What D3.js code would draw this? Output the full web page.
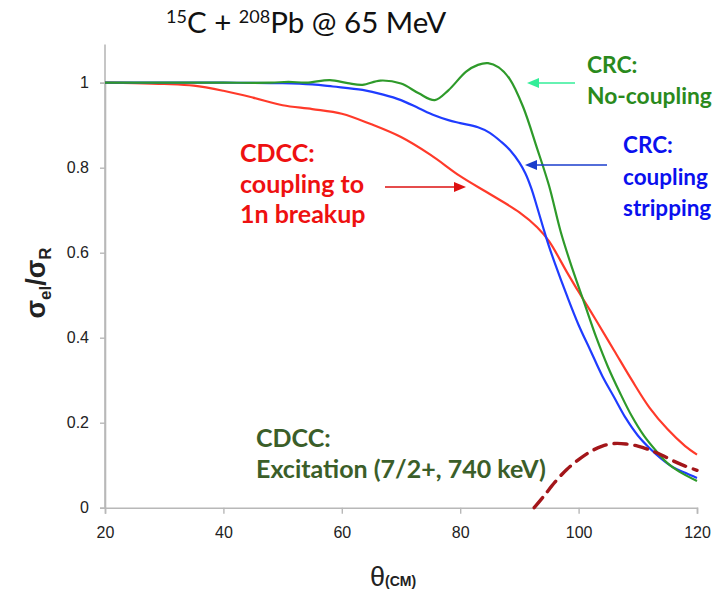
<!DOCTYPE html>
<html><head><meta charset="utf-8">
<script src="https://cdn.jsdelivr.net/npm/d3@7"></script>
<style>html,body{margin:0;padding:0;background:#fff;overflow:hidden}</style>
</head><body>
<svg id="c" width="715" height="593"></svg>
<script>
// ---- data (theta_cm in degrees, sigma_el/sigma_R) ----
const xTicks = [20, 40, 60, 80, 100, 120];
const yTicks = [0, 0.2, 0.4, 0.6, 0.8, 1];
const yTickLabels = ["0", "0.2", "0.4", "0.6", "0.8", "1"];

const greenTheta = [20,30,40,48,51,54,58,61,63.5,66.5,70,73,75.7,78,81,83,84.7,86.5,88.4,90.6,93,95,97,99,101,103,105,107,109,111,113,115,117,120];
const greenVal   = [1.0,1.0,1.0,1.0,1.002,1.0,1.006,0.999,0.995,1.005,0.998,0.975,0.959,0.982,1.026,1.042,1.046,1.036,1.008,0.944,0.845,0.758,0.648,0.56,0.48,0.40,0.33,0.27,0.215,0.17,0.135,0.105,0.085,0.063];

const blueTheta = [20,30,40,50,55,58.5,63.5,67,70,73,75.5,78,80,83,85,87,88.5,90,91,92,93,94,95,96,98,100,102,104,106,108,110,112,114,116,118,120];
const blueVal   = [1.0,1.0,1.0,0.999,0.996,0.991,0.983,0.972,0.959,0.94,0.924,0.912,0.905,0.895,0.882,0.86,0.84,0.812,0.787,0.752,0.707,0.66,0.615,0.575,0.5,0.43,0.37,0.31,0.26,0.21,0.17,0.14,0.115,0.095,0.082,0.07];

const redTheta = [20,25,30,35,40,45,50,55,60,65,70,75,80,85,90,93,95,98,100,103,106,109,112,115,118,120];
const redVal   = [1.0,0.999,0.997,0.993,0.981,0.965,0.947,0.938,0.927,0.902,0.872,0.83,0.78,0.738,0.695,0.66,0.627,0.555,0.508,0.44,0.37,0.30,0.235,0.185,0.145,0.125];

const exTheta = [92.5,94,96,98,100,102,104,106,108,110,112,114,116,118,120];
const exVal   = [0.0,0.025,0.06,0.09,0.113,0.132,0.145,0.151,0.15,0.145,0.136,0.124,0.11,0.098,0.088];

// ---- layout ----
const svg = d3.select("#c");
const x = d3.scaleLinear().domain([20,120]).range([105,697]);
const y = d3.scaleLinear().domain([0,1]).range([507.7,82.7]);
const axisColor = "#b8b8b8";

// axes
const gx = svg.append("g").attr("transform",`translate(0,${y(0)})`)
  .call(d3.axisBottom(x).tickValues(xTicks).tickSize(6).tickPadding(13).tickFormat(d3.format("d")));
const gy = svg.append("g").attr("transform",`translate(${x(20)},0)`)
  .call(d3.axisLeft(y).tickValues(yTicks).tickSize(5).tickPadding(11).tickFormat((d,i)=>yTickLabels[i]));
svg.append("line").attr("x1",x(20)).attr("x2",x(20)).attr("y1",y(0)).attr("y2",y(1.09)).attr("stroke",axisColor).attr("stroke-width",1.6);
[gx,gy].forEach(g=>{
  g.select(".domain").attr("stroke",axisColor).attr("stroke-width",1.6);
  g.selectAll(".tick line").attr("stroke",axisColor).attr("stroke-width",1.4);
  g.selectAll(".tick text").attr("fill","#222").style("font-family","Liberation Sans, Arial, sans-serif").style("font-size","16px");
});

// curves
const line = (xs, ys) => d3.line().x((d,i)=>x(xs[i])).y((d,i)=>y(ys[i])).curve(d3.curveCatmullRom.alpha(0.5))(xs);
svg.append("path").attr("d",line(redTheta,redVal)).attr("fill","none").attr("stroke","#ff3a2a").attr("stroke-width",2.2);
svg.append("path").attr("d",line(blueTheta,blueVal)).attr("fill","none").attr("stroke","#1f3cff").attr("stroke-width",2.2);
svg.append("path").attr("d",line(greenTheta,greenVal)).attr("fill","none").attr("stroke","#2e9a2a").attr("stroke-width",2.2);
svg.append("path").attr("d",line(exTheta,exVal)).attr("fill","none").attr("stroke","#a3161a").attr("stroke-width",3.4).attr("stroke-dasharray","13,8").attr("stroke-linecap","round");

// title
const title = svg.append("text").attr("x",166).attr("y",33).style("font-family","Lato, 'Open Sans', sans-serif").style("font-size","29.5px").attr("fill","#111");
title.append("tspan").text("15").style("font-size","18px").attr("dy","-10");
title.append("tspan").text("C + ").attr("dy","10");
title.append("tspan").text("208").style("font-size","18px").attr("dy","-10");
title.append("tspan").text("Pb @ 65 MeV").attr("dy","10");

// axis titles
const yl = svg.append("text").attr("transform","translate(45,283) rotate(-90)").attr("text-anchor","middle")
  .style("font-family","Liberation Sans, Arial, sans-serif").style("font-weight","bold").attr("fill","#222").style("font-size","27px");
yl.append("tspan").text("σ");
yl.append("tspan").text("el").style("font-size","17px").attr("dy","6");
yl.append("tspan").text("/").attr("dy","-6");
yl.append("tspan").text("σ");
yl.append("tspan").text("R").style("font-size","17px").attr("dy","6");

const xl = svg.append("text").attr("x",370).attr("y",586).style("font-family","Liberation Sans, Arial, sans-serif").attr("fill","#222");
xl.append("tspan").text("θ").style("font-size","27px");
xl.append("tspan").text("(CM)").style("font-size","14px").style("font-weight","bold");

// annotations
const annFont = "Lato, 'Open Sans', sans-serif";
function label(lines, xp, y0, dy, color, size){
  lines.forEach((t,i)=>svg.append("text").attr("x",xp).attr("y",y0+i*dy).text(t)
    .style("font-family",annFont).style("font-weight","bold").style("font-size",size+"px").attr("fill",color));
}
label(["CRC:","No-coupling"],587,73,31,"#2a8a1c",22.8);
label(["CRC:","coupling","stripping"],623,153,31.5,"#0a10ee",22.5);
label(["CDCC:","coupling to","1n breakup"],240,162,30.5,"#ee1111",25);
label(["CDCC:","Excitation (7/2+, 740 keV)"],256,447,30.5,"#3b5e29",25);

function arrow(x1,y1,x2,y2,color){
  const ang = Math.atan2(y2-y1,x2-x1);
  const L=12, W=5;
  const bx = x2 - L*Math.cos(ang), by = y2 - L*Math.sin(ang);
  svg.append("line").attr("x1",x1).attr("y1",y1).attr("x2",bx).attr("y2",by).attr("stroke",color).attr("stroke-width",1.6);
  svg.append("path").attr("d",`M${x2},${y2}L${bx - W*Math.sin(ang)},${by + W*Math.cos(ang)}L${bx + W*Math.sin(ang)},${by - W*Math.cos(ang)}Z`).attr("fill",color);
}
arrow(575,83,527,83,"#33ee99");
arrow(607,165,525,165,"#1a3ccc");
arrow(385,187,466,187,"#dd1111");
</script>
</body></html>
